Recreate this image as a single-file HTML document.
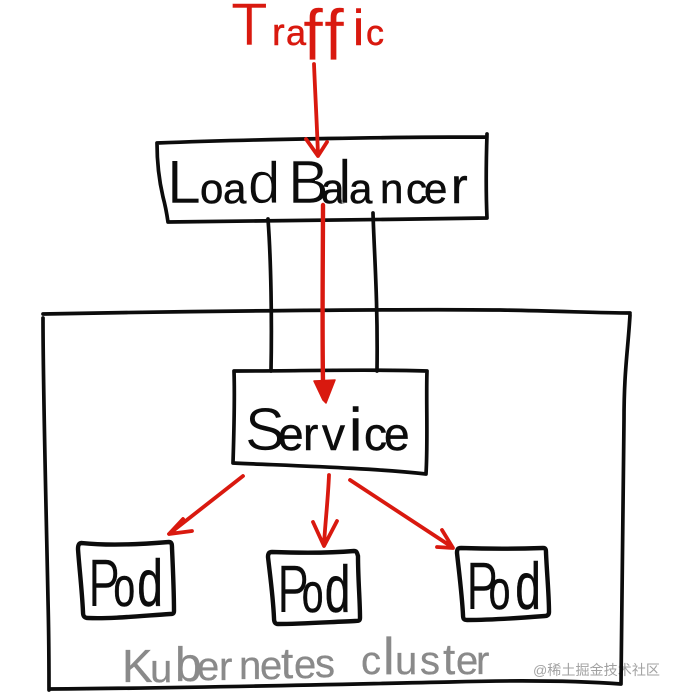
<!DOCTYPE html>
<html lang="en">
<head>
<meta charset="utf-8">
<title>Load Balancer to Kubernetes cluster</title>
<style>
html,body{margin:0;padding:0;background:#fff;width:679px;height:696px;overflow:hidden}
svg{display:block;filter:blur(.35px)}
.k{fill:none;stroke:#0c0c0c;stroke-width:3.7;stroke-linecap:round;stroke-linejoin:round}
.p{fill:none;stroke:#0c0c0c;stroke-width:4.4;stroke-linecap:round;stroke-linejoin:round}
.r{fill:none;stroke:#d9190f;stroke-width:3.8;stroke-linecap:round;stroke-linejoin:round}
text{font-family:"Liberation Sans",sans-serif}
.tk{fill:#0c0c0c;stroke:#0c0c0c;stroke-width:.5}
.tr{fill:#d9190f;stroke:#d9190f;stroke-width:.5}
.tg{fill:#8a8a8a;stroke:#8a8a8a;stroke-width:.3}
.b{stroke:#fff;stroke-width:.6}
</style>
</head>
<body>
<svg width="679" height="696" viewBox="0 0 679 696" xmlns="http://www.w3.org/2000/svg">
<rect width="679" height="696" fill="#fff"/>

<!-- Labels -->
<text class="tr" y="45" font-size="38"><tspan class="b" x="231" font-size="60">T</tspan><tspan x="272">r</tspan><tspan x="286" font-size="36">a</tspan><tspan class="b" x="303" y="60" font-size="72">f</tspan><tspan class="b" x="324" y="60" font-size="72">f</tspan><tspan x="353" y="45" font-size="50">i</tspan><tspan x="366" y="45" font-size="36">c</tspan></text>

<text class="tk" y="203" font-size="42"><tspan class="b" x="167" font-size="61">L</tspan><tspan x="200">o</tspan><tspan x="223">a</tspan><tspan class="b" x="248" font-size="58">d</tspan> <tspan class="b" x="288" font-size="61">B</tspan><tspan x="321">a</tspan><tspan class="b" x="338" font-size="61">l</tspan><tspan x="349">a</tspan><tspan x="380">n</tspan><tspan x="406">c</tspan><tspan x="424">e</tspan><tspan x="451" font-size="50">r</tspan></text>

<text class="tk" y="450" font-size="46"><tspan class="b" x="245" font-size="60">S</tspan><tspan x="278">e</tspan><tspan x="303">r</tspan><tspan x="322">v</tspan><tspan x="349" font-size="60">i</tspan><tspan x="364">c</tspan><tspan x="384">e</tspan></text>

<text class="tk" transform="scale(.7,1)" y="606" font-size="56"><tspan class="b" x="126" font-size="68">P</tspan><tspan x="162">o</tspan><tspan x="196" font-size="66">d</tspan></text>
<text class="tk" transform="scale(.7,1)" y="612" font-size="56"><tspan class="b" x="396" font-size="68">P</tspan><tspan x="431">o</tspan><tspan x="464" font-size="66">d</tspan></text>
<text class="tk" transform="scale(.7,1)" y="609" font-size="56"><tspan class="b" x="666" font-size="68">P</tspan><tspan x="698">o</tspan><tspan x="736" font-size="66">d</tspan></text>

<text class="tg" font-size="40"><tspan x="122" y="682" font-size="46">K</tspan><tspan x="150" y="682">u</tspan><tspan x="175" y="681" font-size="48">b</tspan><tspan x="197" y="680">e</tspan><tspan x="219" y="680">r</tspan><tspan x="239" y="679">n</tspan><tspan x="260" y="679">e</tspan><tspan x="281" y="678" font-size="44">t</tspan><tspan x="294" y="678">e</tspan><tspan x="315" y="677">s</tspan> <tspan x="361" y="674">c</tspan><tspan x="383" y="674" font-size="52">l</tspan><tspan x="395" y="674">u</tspan><tspan x="420" y="674">s</tspan><tspan x="443" y="674" font-size="44">t</tspan><tspan x="456" y="674">e</tspan><tspan x="476" y="674">r</tspan></text>

<text x="533" y="675" font-size="14" fill="#a2a2a2" textLength="127" lengthAdjust="spacingAndGlyphs" style='font-family:"Liberation Sans","Noto Sans CJK SC",sans-serif'>@稀土掘金技术社区</text>

<!-- Load balancer box -->
<path class="k" d="M157 143 C260 139 400 137 487 137 M487 134 C486 165 486 195 487 218 M487 218 C380 220 270 220 168 222 M157 143 C157 160 159 180 163 197 C166 208 167 215 168 222"/>
<!-- Black connectors -->
<path class="k" d="M268 219 C271 260 272 320 271 371 M373 213 C374 250 378 300 377 371"/>

<!-- Cluster box -->
<path class="k" d="M43 314 C200 311 400 309 500 310 C560 311 600 313 630 313 M43 318 C43 390 46 500 48 600 C49 640 49 670 49 690 M630 315 C628 350 624 370 624 420 C623 520 622 620 621 684 M49 689 C200 688 350 684 450 682 C520 680 580 681 621 684"/>

<!-- Service box -->
<path class="k" d="M234 371 C300 371 370 369 427 371 M427 371 C426 400 428 440 426 474 M233 463 C300 466 370 468 426 474 M234 371 C235 400 234 430 233 463"/>

<!-- Pod boxes -->
<path class="p" d="M82 543 C110 546 145 544 169 542 C172 542 172 545 172 548 C173 570 174 595 174 611 C174 614 172 614 170 614 C140 616 110 619 88 618 C84 618 83 616 83 612 C82 590 79 565 78 549 C78 545 79 543 82 543Z"/>
<path class="p" d="M272 552 C300 553 330 553 354 551 C357 551 357 553 358 556 C358 580 360 600 360 618 C360 621 358 621 355 621 C330 622 300 624 278 624 C275 624 274 622 274 618 C273 596 270 575 268 557 C268 554 269 552 272 552Z"/>
<path class="p" d="M461 548 C490 549 515 549 543 548 C546 548 546 550 546 553 C547 575 549 595 549 612 C549 615 547 616 545 616 C520 618 490 620 467 620 C464 620 463 619 463 615 C462 595 459 572 457 553 C457 549 458 548 461 548Z"/>

<!-- Red arrows -->
<path class="r" d="M314 64 C315 90 317 125 318 156 M306 139 L318 156 L327 142"/>
<path class="r" d="M323 205 C323 250 322 320 323 382" style="stroke-width:4.4"/>
<path d="M314 381 L335 380 L326 403 L323 400Z" fill="#d9190f" stroke="#d9190f" stroke-width="1.5" stroke-linejoin="round"/>
<path class="r" d="M243 476 L169 534 M183 519 L169 534 L192 531"/>
<path class="r" d="M329 475 C328 500 325 525 324 545 M313 522 L324 546 L337 521"/>
<path class="r" d="M350 480 L452 547 M437 547 L453 548 L442 530"/>
</svg>
</body>
</html>
